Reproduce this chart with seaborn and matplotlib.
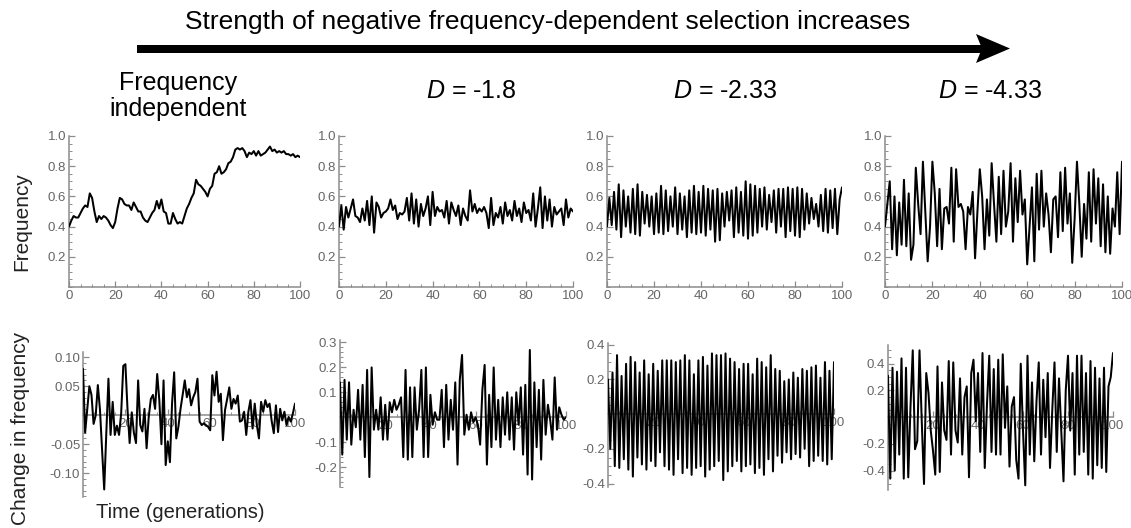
import numpy as np
import matplotlib
matplotlib.use("Agg")
import matplotlib.pyplot as plt
import seaborn as sns
from matplotlib.ticker import MultipleLocator, FixedLocator, FormatStrFormatter
from matplotlib.patches import Polygon, Rectangle

W, H = 1131, 528

# generations 0..100
gens = np.arange(101)

column_titles = ["Frequency\nindependent", "$\\it{D}$ = -1.8", "$\\it{D}$ = -2.33", "$\\it{D}$ = -4.33"]

# allele frequency (top row)
freq_indep = [
    0.40, 0.44, 0.47, 0.46, 0.46, 0.49, 0.52, 0.54, 0.53, 0.62,
    0.59, 0.50, 0.43, 0.47, 0.45, 0.47, 0.46, 0.44, 0.41, 0.39,
    0.43, 0.52, 0.59, 0.58, 0.55, 0.54, 0.54, 0.51, 0.56, 0.53,
    0.50, 0.50, 0.46, 0.44, 0.43, 0.46, 0.49, 0.51, 0.57, 0.52,
    0.58, 0.50, 0.49, 0.42, 0.42, 0.49, 0.45, 0.42, 0.43, 0.42,
    0.47, 0.52, 0.55, 0.59, 0.62, 0.71, 0.68, 0.67, 0.65, 0.63,
    0.60, 0.65, 0.67, 0.75, 0.76, 0.80, 0.75, 0.76, 0.78, 0.82,
    0.83, 0.86, 0.91, 0.92, 0.91, 0.92, 0.90, 0.86, 0.89, 0.88,
    0.90, 0.87, 0.90, 0.87, 0.88, 0.89, 0.91, 0.93, 0.90, 0.91,
    0.89, 0.90, 0.89, 0.90, 0.88, 0.88, 0.87, 0.88, 0.86, 0.87,
    0.86,
]
freq_d18 = [
    0.40, 0.54, 0.38, 0.53, 0.46, 0.52, 0.58, 0.47, 0.46, 0.43,
    0.52, 0.44, 0.57, 0.41, 0.60, 0.36, 0.56, 0.53, 0.46, 0.49,
    0.50, 0.52, 0.58, 0.51, 0.54, 0.45, 0.49, 0.48, 0.50, 0.59,
    0.44, 0.62, 0.42, 0.58, 0.40, 0.55, 0.47, 0.52, 0.60, 0.41,
    0.63, 0.47, 0.53, 0.50, 0.51, 0.46, 0.57, 0.42, 0.56, 0.51,
    0.47, 0.54, 0.41, 0.52, 0.47, 0.44, 0.64, 0.50, 0.55, 0.49,
    0.52, 0.50, 0.53, 0.49, 0.39, 0.59, 0.41, 0.49, 0.46, 0.53,
    0.42, 0.56, 0.47, 0.51, 0.44, 0.57, 0.47, 0.52, 0.43, 0.56,
    0.49, 0.51, 0.44, 0.62, 0.40, 0.52, 0.66, 0.39, 0.60, 0.44,
    0.58, 0.40, 0.53, 0.48, 0.50, 0.52, 0.41, 0.58, 0.46, 0.52,
    0.50,
]
freq_d233 = [
    0.40, 0.59, 0.41, 0.63, 0.38, 0.68, 0.33, 0.64, 0.40, 0.60,
    0.36, 0.65, 0.35, 0.68, 0.34, 0.63, 0.42, 0.61, 0.40, 0.60,
    0.35, 0.62, 0.36, 0.67, 0.35, 0.64, 0.37, 0.60, 0.40, 0.66,
    0.35, 0.62, 0.38, 0.60, 0.33, 0.64, 0.36, 0.67, 0.35, 0.63,
    0.36, 0.67, 0.34, 0.65, 0.38, 0.64, 0.30, 0.65, 0.31, 0.62,
    0.40, 0.63, 0.44, 0.64, 0.33, 0.66, 0.36, 0.63, 0.34, 0.70,
    0.32, 0.68, 0.34, 0.67, 0.36, 0.65, 0.40, 0.66, 0.38, 0.61,
    0.43, 0.64, 0.36, 0.65, 0.40, 0.65, 0.33, 0.66, 0.37, 0.65,
    0.34, 0.66, 0.33, 0.65, 0.38, 0.62, 0.42, 0.59, 0.45, 0.55,
    0.40, 0.61, 0.37, 0.65, 0.36, 0.64, 0.39, 0.65, 0.35, 0.58,
    0.66,
]
freq_d433 = [
    0.40, 0.55, 0.70, 0.25, 0.60, 0.21, 0.56, 0.28, 0.71, 0.27,
    0.62, 0.18, 0.28, 0.79, 0.55, 0.35, 0.83, 0.50, 0.17, 0.40,
    0.83, 0.62, 0.27, 0.65, 0.25, 0.52, 0.53, 0.42, 0.79, 0.30,
    0.78, 0.53, 0.55, 0.50, 0.25, 0.53, 0.48, 0.63, 0.19, 0.50,
    0.78, 0.60, 0.25, 0.58, 0.34, 0.82, 0.55, 0.30, 0.73, 0.35,
    0.77, 0.40, 0.50, 0.82, 0.30, 0.72, 0.43, 0.77, 0.48, 0.58,
    0.15, 0.40, 0.66, 0.17, 0.75, 0.38, 0.77, 0.40, 0.62, 0.48,
    0.23, 0.58, 0.60, 0.33, 0.76, 0.37, 0.79, 0.42, 0.62, 0.16,
    0.45, 0.83, 0.55, 0.20, 0.55, 0.32, 0.76, 0.30, 0.78, 0.42,
    0.72, 0.27, 0.68, 0.23, 0.60, 0.22, 0.52, 0.40, 0.76, 0.35,
    0.83,
]

# change in frequency (bottom row)
dfreq_indep = [
    0.080, -0.030, 0.010, 0.050, 0.035, -0.015, 0.000, 0.052, 0.010, -0.060,
    -0.128, -0.030, 0.063, -0.034, 0.023, -0.034, -0.018, -0.034, 0.003, 0.085,
    0.088, 0.010, -0.048, 0.005, -0.030, -0.048, 0.060, -0.017, -0.028, 0.011,
    -0.057, -0.003, 0.028, 0.035, 0.011, 0.071, 0.026, -0.050, 0.060, -0.086,
    -0.045, -0.081, 0.020, 0.074, -0.040, -0.020, 0.011, 0.035, 0.060, 0.031,
    0.045, 0.017, 0.031, 0.040, 0.063, -0.011, -0.017, -0.014, -0.017, -0.020,
    -0.026, 0.069, 0.034, 0.075, 0.023, 0.037, -0.043, 0.009, 0.028, 0.048,
    0.011, 0.028, 0.020, 0.034, -0.011, -0.009, 0.006, -0.034, 0.006, 0.026,
    -0.023, 0.020, -0.017, -0.040, 0.023, 0.006, 0.026, 0.014, 0.020, -0.010,
    -0.031, 0.017, -0.029, 0.011, -0.009, 0.006, -0.017, -0.003, -0.011, 0.003,
    0.020,
]
dfreq_d18 = [
    0.14, -0.15, 0.15, -0.09, 0.14, -0.11, 0.03, -0.04, 0.11, -0.09,
    0.13, -0.16, 0.19, -0.24, 0.20, -0.05, 0.03, -0.05, 0.08, -0.09,
    0.05, -0.09, 0.06, 0.02, 0.07, 0.03, 0.05, 0.08, -0.16, 0.19,
    -0.17, 0.12, -0.16, 0.12, -0.05, 0.03, 0.19, -0.16, 0.20, -0.16,
    0.09, -0.03, 0.02, -0.01, -0.01, 0.11, -0.12, 0.13, -0.09, 0.07,
    -0.05, 0.14, -0.19, 0.15, 0.25, -0.07, 0.01, -0.05, 0.02, -0.02,
    0.00, -0.03, -0.11, 0.11, 0.21, -0.19, 0.09, -0.12, 0.20, -0.09,
    0.07, -0.12, 0.08, -0.07, 0.10, -0.09, 0.08, -0.13, 0.10, -0.03,
    0.12, -0.15, 0.13, -0.23, 0.27, -0.25, 0.14, -0.12, 0.11, -0.17,
    0.15, -0.07, 0.05, -0.01, -0.09, 0.16, -0.05, 0.04, 0.01, -0.01,
    0.00,
]
dfreq_d233 = [
    0.20, -0.20, 0.24, -0.30, 0.34, -0.31, 0.22, -0.26, 0.29, -0.32,
    0.33, -0.36, 0.30, -0.25, 0.24, -0.29, 0.31, -0.32, 0.23, -0.27,
    0.29, -0.30, 0.25, -0.22, 0.31, -0.30, 0.31, -0.32, 0.31, -0.35,
    0.30, -0.26, 0.31, -0.34, 0.34, -0.31, 0.31, -0.35, 0.23, -0.31,
    0.31, -0.30, 0.33, -0.36, 0.28, -0.32, 0.35, -0.30, 0.34, -0.27,
    0.34, -0.38, 0.35, -0.33, 0.32, -0.30, 0.30, -0.27, 0.26, -0.33,
    0.29, -0.30, 0.29, -0.29, 0.23, -0.34, 0.32, -0.31, 0.30, -0.35,
    0.27, -0.26, 0.34, -0.33, 0.26, -0.24, 0.25, -0.28, 0.19, -0.22,
    0.20, -0.26, 0.24, -0.23, 0.21, -0.25, 0.26, -0.20, 0.25, -0.30,
    0.27, -0.27, 0.28, -0.24, 0.21, -0.27, 0.30, -0.29, 0.25, -0.26,
    0.30,
]
dfreq_d433 = [
    0.31, -0.46, 0.37, -0.40, 0.34, -0.28, 0.44, -0.46, 0.37, -0.45,
    0.08, 0.50, -0.24, -0.18, 0.50, -0.03, -0.50, 0.33, 0.18, -0.10,
    -0.25, -0.43, 0.38, -0.41, 0.26, -0.10, -0.17, 0.42, -0.28, 0.41,
    -0.10, -0.19, 0.29, -0.28, 0.15, 0.23, -0.45, 0.33, 0.43, -0.03,
    0.33, -0.26, 0.48, -0.38, 0.10, 0.46, -0.26, 0.36, -0.28, 0.43,
    -0.28, 0.47, -0.08, 0.23, -0.37, 0.08, 0.15, -0.32, -0.46, 0.40,
    -0.10, -0.51, 0.46, -0.28, 0.26, -0.33, 0.12, 0.41, -0.28, 0.28,
    -0.15, 0.33, -0.38, 0.05, 0.41, -0.26, 0.29, -0.10, -0.48, 0.20,
    0.46, -0.10, 0.33, -0.43, 0.46, -0.28, 0.46, -0.26, 0.33, -0.43,
    0.42, -0.46, 0.37, -0.36, 0.29, -0.38, 0.37, -0.41, 0.23, 0.30,
    0.48,
]

top_series = [freq_indep, freq_d18, freq_d233, freq_d433]
bottom_series = [dfreq_indep, dfreq_d18, dfreq_d233, dfreq_d433]

top_xticks = [0, 20, 40, 60, 80, 100]
top_yticks = [0.2, 0.4, 0.6, 0.8, 1.0]
bottom_xticks = [20, 40, 60, 80, 100]
bottom_yticks = [
    [-0.10, -0.05, 0.05, 0.10],
    [-0.2, -0.1, 0.1, 0.2, 0.3],
    [-0.4, -0.2, 0.2, 0.4],
    [-0.4, -0.2, 0.2, 0.4],
]

sns.set_theme(style="white")
plt.rcParams['font.family'] = ['Liberation Sans', 'DejaVu Sans']
plt.rcParams['mathtext.fontset'] = 'custom'
plt.rcParams['mathtext.it'] = 'Liberation Sans:italic'
plt.rcParams['mathtext.rm'] = 'Liberation Sans'
plt.rcParams['axes.unicode_minus'] = False

AXIS_GREY = '#8c8c8c'
LABEL_GREY = '#666666'


def add_px_axes(fig, x0, x1, y_top, y_bot):
    """Place an axes using pixel edges of the 1131x528 canvas."""
    return fig.add_axes([x0 / W, 1 - y_bot / H, (x1 - x0) / W, (y_bot - y_top) / H])


def style_axes(ax):
    for side in ('top', 'right'):
        ax.spines[side].set_visible(False)
    for side in ('left', 'bottom'):
        ax.spines[side].set_color(AXIS_GREY)
        ax.spines[side].set_linewidth(1.1)
    ax.tick_params(which='both', direction='in', colors=AXIS_GREY,
                   labelcolor=LABEL_GREY, labelsize=9.5, pad=2,
                   bottom=True, left=True, top=False, right=False)
    ax.tick_params(which='major', length=4.5, width=0.9)
    ax.tick_params(which='minor', length=2.2, width=0.7)
    ax.set_xlabel('')
    ax.set_ylabel('')
    ax.set_facecolor('none')
    ax.set_axisbelow(True)


def draw_series(ax, values):
    sns.lineplot(x=gens, y=values, ax=ax, color='black', linewidth=1.45,
                 estimator=None, sort=False, zorder=3)


fig = plt.figure(figsize=(W / 100, H / 100), dpi=100)

# top row: frequency
top_x = [(69, 300), (339, 573), (607, 842), (885, 1122)]
for (x0, x1), vals in zip(top_x, top_series):
    ax = add_px_axes(fig, x0, x1, 136, 287)
    draw_series(ax, vals)
    ax.set_xlim(0, 100)
    ax.set_ylim(0, 1.0)
    style_axes(ax)
    ax.xaxis.set_major_locator(FixedLocator(top_xticks))
    ax.xaxis.set_minor_locator(MultipleLocator(5))
    ax.yaxis.set_major_locator(FixedLocator(top_yticks))
    ax.yaxis.set_minor_locator(MultipleLocator(0.05))
    ax.yaxis.set_major_formatter(FormatStrFormatter('%.1f'))

# bottom row: change in frequency
bottom_layout = [
    (83, 295, 352, 497, (-0.141, 0.109), 0.01, '%.2f'),
    (340, 566, 340, 487, (-0.28, 0.31), 0.02, '%.1f'),
    (608, 834, 343, 487, (-0.42, 0.41), 0.05, '%.1f'),
    (888, 1113, 345, 490, (-0.545, 0.54), 0.05, '%.1f'),
]
for (x0, x1, yt, yb, ylim, minor, fmt), vals, yt_list in zip(bottom_layout, bottom_series, bottom_yticks):
    ax = add_px_axes(fig, x0, x1, yt, yb)
    draw_series(ax, vals)
    ax.set_xlim(0, 100)
    ax.set_ylim(*ylim)
    style_axes(ax)
    ax.spines['bottom'].set_position(('data', 0))
    ax.xaxis.set_major_locator(FixedLocator(bottom_xticks))
    ax.xaxis.set_minor_locator(MultipleLocator(5))
    ax.yaxis.set_major_locator(FixedLocator(yt_list))
    ax.yaxis.set_minor_locator(MultipleLocator(minor))
    ax.yaxis.set_major_formatter(FormatStrFormatter(fmt))

# overlay for arrow and free text, in pixel coordinates
ov = fig.add_axes([0, 0, 1, 1])
ov.set_xlim(0, W)
ov.set_ylim(H, 0)
ov.axis('off')
ov.set_zorder(-1)

ov.add_patch(Rectangle((137, 44.5), 845, 8, color='black', lw=0))
ov.add_patch(Polygon([(976, 34), (1010, 48.5), (976, 63), (982, 48.5)], closed=True,
                     color='black', lw=0))
ov.text(548, 22, "Strength of negative frequency-dependent selection increases",
        ha='center', va='center', fontsize=19, color='black')

title_x = [178, 471, 725, 990]
for tx, title in zip(title_x, column_titles):
    if '\n' in title:
        ov.text(tx, 96, title, ha='center', va='center', fontsize=18,
                color='black', linespacing=1.1)
    else:
        ov.text(tx, 91, title, ha='center', va='center', fontsize=18, color='black')

ov.text(22, 222, "Frequency", rotation=90, ha='center', va='center', fontsize=15, color='#222222')
ov.text(21, 428, "Change in frequency", rotation=90, ha='center', va='center',
        fontsize=15, color='#222222')
ov.text(180, 513, "Time (generations)", ha='center', va='center', fontsize=14.5, color='#222222')

fig.savefig("out.png", dpi=100)
